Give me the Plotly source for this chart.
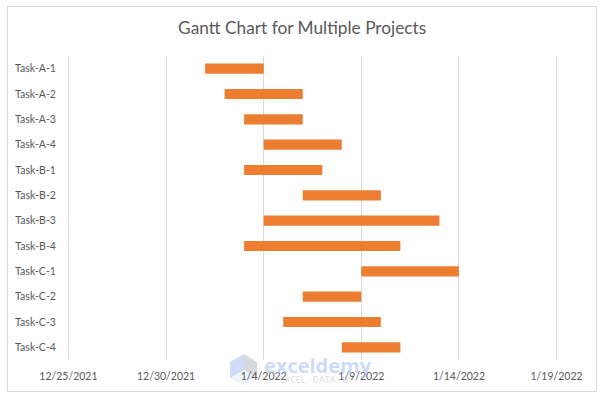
"""Gantt chart: horizontal bars floated on a date axis."""
from __future__ import annotations

import pandas as pd
import plotly.graph_objects as go

TASKS = [
    "Task-A-1", "Task-A-2", "Task-A-3", "Task-A-4",
    "Task-B-1", "Task-B-2", "Task-B-3", "Task-B-4",
    "Task-C-1", "Task-C-2", "Task-C-3", "Task-C-4",
]
STARTS = [
    "2022-01-01", "2022-01-02", "2022-01-03", "2022-01-04",
    "2022-01-03", "2022-01-06", "2022-01-04", "2022-01-03",
    "2022-01-09", "2022-01-06", "2022-01-05", "2022-01-08",
]
DURATIONS_DAYS = [3, 4, 3, 4, 4, 4, 9, 8, 5, 3, 5, 3]
TICK_DATES = ["2021-12-25", "2021-12-30", "2022-01-04", "2022-01-09", "2022-01-14", "2022-01-19"]
TICK_LABELS = ["12/25/2021", "12/30/2021", "1/4/2022", "1/9/2022", "1/14/2022", "1/19/2022"]
# Three hours of slack each side, or plotly clips the gridlines on the range ends
X_RANGE = ["2021-12-24 21:00", "2022-01-19 03:00"]

ORANGE = "#ED7D31"
GRID = "#D9D9D9"
TEXT = "#595959"
FONT = "Lato"
W, H = 602, 401
L, R, T, B = 66.06, 43.06, 56, 41
MS_PER_DAY = 86400000


def px(x: float) -> float:
    """Page pixel to paper x."""
    return (x - L) / (W - L - R)


def py(y: float) -> float:
    """Page pixel to paper y."""
    return (H - B - y) / (H - T - B)


def poly_path(points: list[tuple[float, float]]) -> str:
    return "M " + " L ".join(f"{px(x):.4f},{py(y):.4f}" for x, y in points) + " Z"


fig = go.Figure()
fig.add_trace(go.Bar(
    y=TASKS,
    x=[d * MS_PER_DAY for d in DURATIONS_DAYS],
    base=[pd.Timestamp(s).isoformat() for s in STARTS],
    orientation="h",
    marker=dict(color=ORANGE, line=dict(width=0)),
    showlegend=False,
))

# Chart frame
fig.add_shape(
    type="rect", xref="paper", yref="paper", layer="below",
    x0=px(7.5), x1=px(596.5), y0=py(391.5), y1=py(6.5),
    line=dict(color=GRID, width=1), fillcolor="rgba(0,0,0,0)",
)

# Watermark cube
for pts, colour in [
    ([(244, 354), (230, 362), (230, 378), (244, 370)], "rgba(190,208,248,0.75)"),
    ([(244, 354), (257, 362), (257, 378), (244, 370)], "rgba(200,206,212,0.75)"),
    ([(244, 370), (230, 378), (244, 385), (257, 378)], "rgba(225,235,240,0.6)"),
]:
    fig.add_shape(
        type="path", xref="paper", yref="paper", layer="below",
        path=poly_path(pts), fillcolor=colour, line=dict(width=0),
    )

fig.add_annotation(
    text="<b>exceldemy</b>", xref="paper", yref="paper",
    x=px(317.5), y=py(366), xanchor="center", yanchor="middle", showarrow=False,
    font=dict(family="Open Sans", size=20, color="rgba(170,195,248,0.6)"),
)
fig.add_annotation(
    text="EXCEL · DATA · BI", xref="paper", yref="paper",
    x=px(315), y=py(379), xanchor="center", yanchor="middle", showarrow=False,
    font=dict(family="Open Sans", size=9, color="rgba(190,195,200,0.6)"),
)

fig.update_layout(
    width=W,
    height=H,
    margin=dict(l=L, r=R, t=T, b=B),
    paper_bgcolor="white",
    plot_bgcolor="white",
    font=dict(family=FONT, color=TEXT, size=10.5),
    bargap=0.6,
    title=dict(
        text="Gantt Chart for Multiple Projects",
        font=dict(family=FONT, size=17.3, color=TEXT),
        x=0.502, xanchor="center", y=0.93, yanchor="middle",
    ),
    xaxis=dict(
        type="date",
        range=X_RANGE,
        tickmode="array",
        tickvals=TICK_DATES,
        ticktext=TICK_LABELS,
        showgrid=True,
        gridcolor=GRID,
        gridwidth=1,
        showline=False,
        zeroline=False,
        ticks="outside",
        ticklen=6,
        tickcolor="rgba(0,0,0,0)",
    ),
    yaxis=dict(
        autorange="reversed",
        showgrid=False,
        showline=False,
        zeroline=False,
        ticks="outside",
        ticklen=7,
        tickcolor="rgba(0,0,0,0)",
    ),
)
fig.write_html(
    "out.html",
    config=dict(displayModeBar=False),
    post_script="document.body.style.margin = '0';",
)
